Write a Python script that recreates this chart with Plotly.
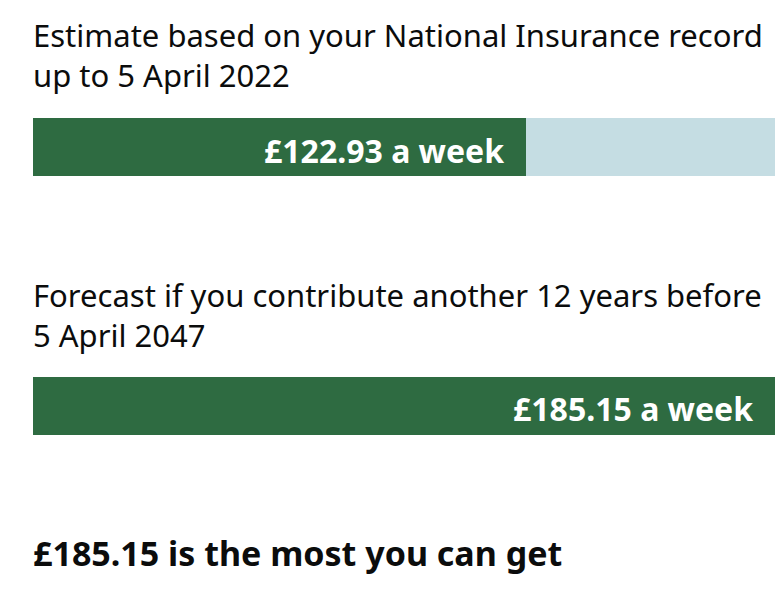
import plotly.graph_objects as go

# ---- data ----
headings = [
    "Estimate based on your National Insurance record<br>up to 5 April 2022",
    "Forecast if you contribute another 12 years before<br>5 April 2047",
]
weekly_amounts = [122.93, 185.15]
bar_labels = ["£122.93 a week", "£185.15 a week"]
maximum_amount = 185.15
footer_text = "£185.15 is the most you can get"

# ---- style ----
OFF = 8                     # page body margin
W, H = 784 - OFF, 600 - OFF
GREEN = "#2e6b41"
LIGHT = "#c5dde3"
TEXT = "#0b0c0c"
FONT = "Noto Sans"

x_left, x_right = 33 - OFF, 775 - OFF
bar_boxes = [(118 - OFF, 176 - OFF), (377 - OFF, 435 - OFF)]
heading_tops = [12 - OFF, 272 - OFF]
footer_top = 528 - OFF

fig = go.Figure()
for i, (amt, lab) in enumerate(zip(weekly_amounts, bar_labels)):
    xa = "x" if i == 0 else f"x{i+1}"
    ya = "y" if i == 0 else f"y{i+1}"
    fig.add_trace(go.Bar(x=[maximum_amount], y=[0], orientation="h",
                         marker=dict(color=LIGHT, line=dict(width=0)),
                         xaxis=xa, yaxis=ya, hoverinfo="skip", showlegend=False))
    fig.add_trace(go.Bar(x=[amt], y=[0], orientation="h",
                         marker=dict(color=GREEN, line=dict(width=0)),
                         xaxis=xa, yaxis=ya, hoverinfo="skip", showlegend=False))
    fig.add_annotation(x=amt, y=0, xref=xa, yref=ya, text=f"<b>{lab}</b>",
                       showarrow=False, xanchor="right", yanchor="middle",
                       xshift=-20, yshift=-3,
                       font=dict(family=FONT, size=32, color="white"))

axis_common = dict(showgrid=False, zeroline=False, showticklabels=False,
                   showline=False, fixedrange=True)
layout = dict(width=W, height=H, margin=dict(l=0, r=0, t=0, b=0),
              paper_bgcolor="white", plot_bgcolor="white",
              barmode="overlay", bargap=0, showlegend=False)
for i, (top, bot) in enumerate(bar_boxes):
    xk = "xaxis" if i == 0 else f"xaxis{i+1}"
    yk = "yaxis" if i == 0 else f"yaxis{i+1}"
    layout[xk] = dict(axis_common, domain=[x_left / W, x_right / W],
                      range=[0, maximum_amount],
                      anchor="y" if i == 0 else f"y{i+1}")
    layout[yk] = dict(axis_common, domain=[(H - bot) / H, (H - top) / H],
                      range=[-0.5, 0.5],
                      anchor="x" if i == 0 else f"x{i+1}")
fig.update_layout(**layout)

for txt, top in zip(headings, heading_tops):
    fig.add_annotation(x=x_left / W, y=1 - top / H, xref="paper", yref="paper",
                       text=txt, showarrow=False, xanchor="left", yanchor="top",
                       align="left", xshift=-2,
                       font=dict(family=FONT, size=31, color=TEXT))

fig.add_annotation(x=x_left / W, y=1 - footer_top / H, xref="paper", yref="paper",
                   text=f"<b>{footer_text}</b>", showarrow=False,
                   xanchor="left", yanchor="top", align="left", xshift=-2,
                   font=dict(family=FONT, size=34, color=TEXT))

fig.write_html("out.html")
